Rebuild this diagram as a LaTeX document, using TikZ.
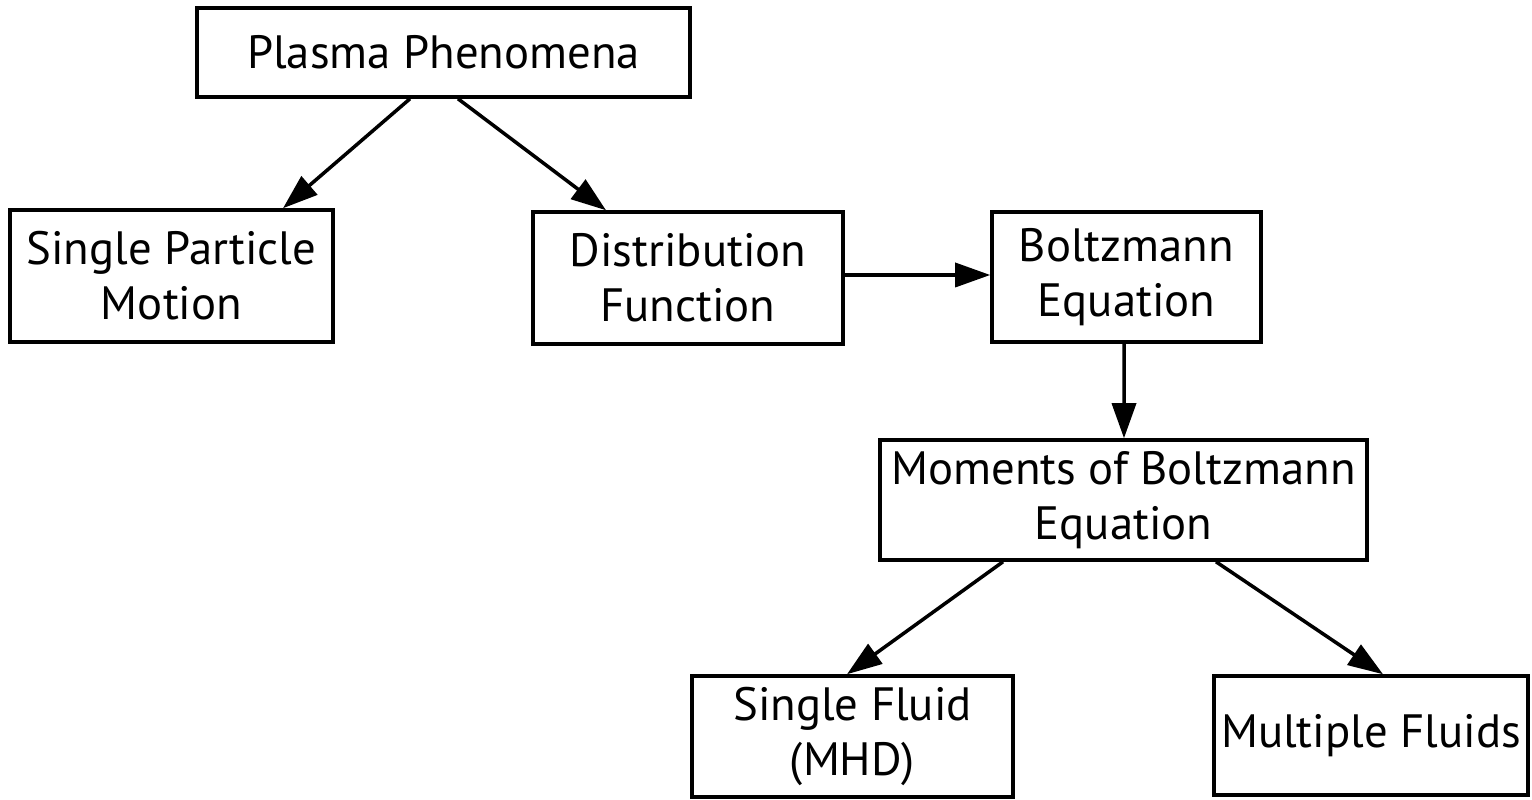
\documentclass[tikz,border=0pt]{standalone}
\usepackage{fontspec}
\setmainfont{PT Sans}
\usetikzlibrary{arrows.meta}

\begin{document}
\begin{tikzpicture}[
    every node/.style={font=\fontsize{13.3}{15.7}\selectfont, align=center},
    box/.style={draw, line width=1pt, inner sep=0pt},
    link/.style={line width=1pt, -{Triangle[length=0.35cm, width=0.24cm]}}
]

        \useasboundingbox (0, 0) rectangle (15.32, -8);

        \node (plasma) at (4.435, -0.525) [box, minimum width = 4.93cm, minimum height = 0.89cm] {Plasma Phenomena};

        \node (single) at (1.715, -2.76) [box, minimum width = 3.23cm, minimum height = 1.32cm] {Single Particle\\Motion};

        \node (distrib) at (6.88, -2.78) [box, minimum width = 3.10cm, minimum height = 1.32cm] {Distribution\\Function};

        \node (boltz) at (11.265, -2.77) [box, minimum width = 2.69cm, minimum height = 1.30cm] {Boltzmann\\Equation};

        \node (moments) at (11.235, -5.00) [box, minimum width = 4.87cm, minimum height = 1.20cm] {Moments of Boltzmann\\Equation};

        \node (fluid) at (8.525, -7.365) [box, minimum width = 3.21cm, minimum height = 1.21cm] {Single Fluid\\(MHD)};

        \node (multi) at (13.71, -7.355) [box, minimum width = 3.14cm, minimum height = 1.19cm] {Multiple Fluids};

        \draw [link] ([xshift = -0.335cm] plasma.south) -- ([xshift = 1.115cm] single.north);
        \draw [link] ([xshift = 0.145cm] plasma.south) -- ([xshift = -0.82cm] distrib.north);
        \draw [link] ([yshift = 0.03cm] distrib.east) -- ([yshift = 0.02cm] boltz.west);
        \draw [link] ([xshift = -0.025cm] boltz.south) -- ([xshift = 0.005cm] moments.north);
        \draw [link] ([xshift = -1.205cm] moments.south) -- ([xshift = -0.055cm] fluid.north);
        \draw [link] ([xshift = 0.925cm] moments.south) -- ([xshift = 0.12cm] multi.north);

    \end{tikzpicture}
\end{document}
